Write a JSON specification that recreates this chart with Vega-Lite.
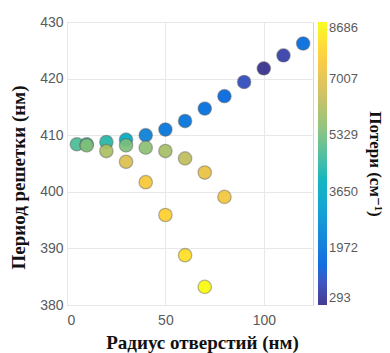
{
  "$schema": "https://vega.github.io/schema/vega-lite/v6.json",
  "autosize": "none",
  "width": 246,
  "height": 283,
  "padding": {"left": 67, "top": 22, "right": 77, "bottom": 48},
  "background": "white",
  "config": {
    "view": {"stroke": "#d4d4d4", "strokeWidth": 1},
    "axis": {
      "domain": false,
      "ticks": false,
      "grid": true,
      "gridColor": "#e8e8e8",
      "labelFont": "Liberation Sans",
      "labelFontSize": 14,
      "labelColor": "#5a5a5a",
      "titleFont": "Liberation Serif",
      "titleFontWeight": "bold",
      "titleFontSize": 19,
      "titleColor": "#111111"
    },
    "legend": {
      "gradientLength": 283,
      "gradientThickness": 9,
      "gradientStrokeWidth": 0,
      "labelFont": "Liberation Sans",
      "labelFontSize": 13,
      "labelColor": "#5a5a5a",
      "labelOffset": 5,
      "labelOverlap": false,
      "titleFont": "Liberation Serif, DejaVu Serif",
      "titleFontWeight": "bold",
      "titleFontSize": 17,
      "titleColor": "#111111"
    }
  },
  "data": {
    "values": [
      {"r": 5, "p": 408.4, "loss": 4800},
      {"r": 10, "p": 408.4, "loss": 4500},
      {"r": 20, "p": 408.8, "loss": 4400},
      {"r": 30, "p": 409.2, "loss": 3800},
      {"r": 40, "p": 410.0, "loss": 2300},
      {"r": 50, "p": 411.0, "loss": 2000},
      {"r": 60, "p": 412.5, "loss": 1900},
      {"r": 70, "p": 414.7, "loss": 1800},
      {"r": 80, "p": 416.9, "loss": 1600},
      {"r": 90, "p": 419.4, "loss": 950},
      {"r": 100, "p": 421.8, "loss": 350},
      {"r": 110, "p": 424.1, "loss": 700},
      {"r": 120, "p": 426.2, "loss": 1700},
      {"r": 10, "p": 408.2, "loss": 5500},
      {"r": 30, "p": 408.2, "loss": 5400},
      {"r": 40, "p": 407.8, "loss": 5600},
      {"r": 50, "p": 407.2, "loss": 6000},
      {"r": 60, "p": 405.9, "loss": 6350},
      {"r": 70, "p": 403.4, "loss": 7200},
      {"r": 80, "p": 399.1, "loss": 7400},
      {"r": 20, "p": 407.2, "loss": 6100},
      {"r": 30, "p": 405.3, "loss": 6900},
      {"r": 40, "p": 401.7, "loss": 7500},
      {"r": 50, "p": 395.9, "loss": 7800},
      {"r": 60, "p": 388.8, "loss": 8100},
      {"r": 70, "p": 383.2, "loss": 8686}
    ]
  },
  "mark": {
    "type": "circle",
    "size": 180,
    "opacity": 0.92,
    "stroke": "#555555",
    "strokeOpacity": 0.45,
    "strokeWidth": 1.3
  },
  "encoding": {
    "x": {
      "field": "r",
      "type": "quantitative",
      "scale": {"domain": [0, 125], "nice": false, "zero": false},
      "axis": {
        "values": [0, 50, 100],
        "title": "Радиус отверстий (нм)",
        "labelPadding": 8,
        "titleX": 135,
        "titleY": 43,
        "titleAlign": "center",
        "titleBaseline": "alphabetic"
      }
    },
    "y": {
      "field": "p",
      "type": "quantitative",
      "scale": {"domain": [380, 430], "nice": false, "zero": false},
      "axis": {
        "values": [380, 390, 400, 410, 420, 430],
        "title": "Период решетки (нм)",
        "labelPadding": 4,
        "titleAngle": 270,
        "titleX": -49,
        "titleY": 155,
        "titleAlign": "center",
        "titleBaseline": "middle"
      }
    },
    "color": {
      "field": "loss",
      "type": "quantitative",
      "scale": {
        "type": "linear",
        "domain": [293, 8686],
        "range": ["#352a87", "#0f5cdd", "#1481d6", "#06a4ca", "#2eb7a4", "#87bf77", "#d1bb59", "#fec832", "#f9fb0e"]
      },
      "legend": {
        "title": "Потери (см⁻¹)",
        "format": "d",
        "values": [293, 1972, 3650, 5329, 7007, 8686],
        "orient": "right",
        "offset": 5,
        "padding": 0,
        "titleOrient": "right",
        "titleAngle": 270,
        "titleAnchor": "middle",
        "titleBaseline": "bottom",
        "titlePadding": 8
      }
    }
  }
}
